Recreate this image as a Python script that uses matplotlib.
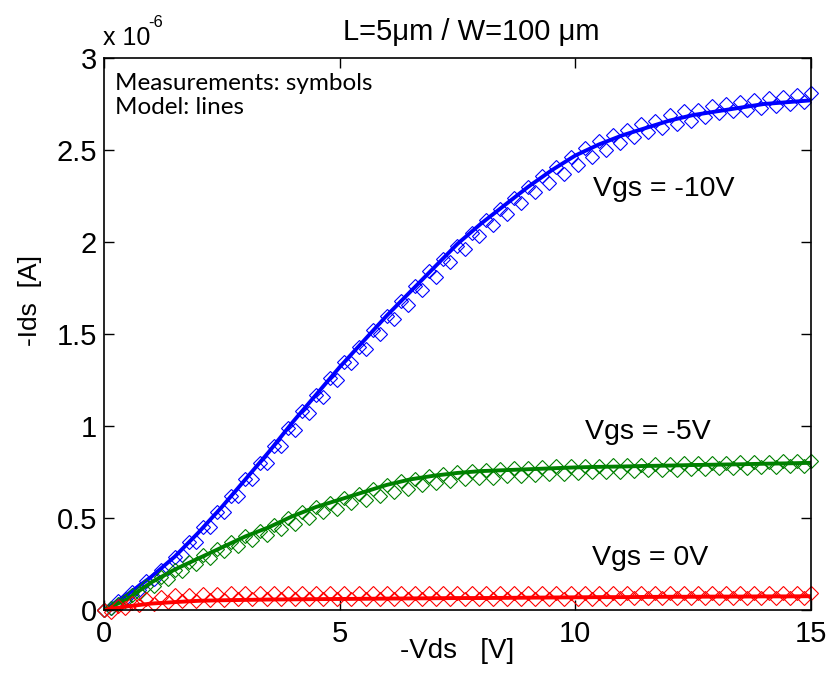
import numpy as np
import matplotlib.pyplot as plt

# model curves (units of 1e-6 A)
vm = [0, 0.5, 1, 1.5, 2, 2.5, 3, 3.5, 4, 4.5, 5, 5.5, 6, 6.5, 7, 7.5, 8, 8.5, 9, 9.5,
      10, 10.5, 11, 11.5, 12, 12.5, 13, 13.5, 14, 14.5, 15]
model_10 = [0, 0.085, 0.18, 0.29, 0.42, 0.56, 0.71, 0.86, 1.02, 1.17, 1.32, 1.46, 1.60, 1.73,
            1.86, 1.99, 2.10, 2.20, 2.30, 2.39, 2.47, 2.53, 2.58, 2.62, 2.66, 2.69, 2.71,
            2.73, 2.75, 2.76, 2.77]
model_5 = [0, 0.06, 0.15, 0.22, 0.28, 0.34, 0.40, 0.45, 0.51, 0.56, 0.60, 0.64, 0.68, 0.71,
           0.73, 0.745, 0.755, 0.76, 0.765, 0.77, 0.775, 0.778, 0.78, 0.783, 0.785, 0.788,
           0.79, 0.792, 0.795, 0.797, 0.80]
model_0 = [0, 0.02, 0.035, 0.043, 0.05, 0.053, 0.055, 0.057, 0.058, 0.059, 0.06, 0.061, 0.062,
           0.063, 0.064, 0.065, 0.065, 0.066, 0.067, 0.068, 0.069, 0.07, 0.07, 0.071, 0.072,
           0.072, 0.073, 0.073, 0.074, 0.074, 0.075]

# measurements, two sweeps
va = np.round(np.arange(0, 15.01, 0.3), 2)
vb = np.round(np.arange(0.15, 15.0, 0.3), 2)

meas_10a = [0.00, 0.05, 0.10, 0.16, 0.22, 0.29, 0.37, 0.45, 0.53, 0.62, 0.71, 0.80, 0.89, 0.99,
            1.08, 1.17, 1.26, 1.35, 1.43, 1.52, 1.60, 1.68, 1.76, 1.84, 1.91, 1.98, 2.05, 2.12,
            2.18, 2.24, 2.30, 2.36, 2.41, 2.46, 2.51, 2.55, 2.58, 2.61, 2.64, 2.66, 2.69, 2.71,
            2.72, 2.74, 2.75, 2.76, 2.77, 2.78, 2.79, 2.80, 2.81]
meas_10b = [0.01, 0.06, 0.11, 0.17, 0.23, 0.30, 0.37, 0.45, 0.53, 0.62, 0.71, 0.80, 0.89, 0.98,
            1.07, 1.16, 1.25, 1.34, 1.42, 1.50, 1.58, 1.66, 1.74, 1.81, 1.89, 1.96, 2.03, 2.09,
            2.15, 2.21, 2.27, 2.32, 2.37, 2.42, 2.46, 2.50, 2.54, 2.57, 2.60, 2.62, 2.64, 2.66,
            2.68, 2.70, 2.71, 2.72, 2.73, 2.74, 2.75, 2.76]
meas_5a = [0.00, 0.03, 0.08, 0.13, 0.18, 0.22, 0.26, 0.30, 0.33, 0.37, 0.40, 0.43, 0.46, 0.50,
           0.53, 0.56, 0.58, 0.61, 0.63, 0.66, 0.68, 0.70, 0.71, 0.73, 0.74, 0.75, 0.755, 0.76,
           0.765, 0.77, 0.77, 0.775, 0.78, 0.78, 0.785, 0.785, 0.79, 0.79, 0.79, 0.795, 0.795,
           0.80, 0.80, 0.80, 0.80, 0.805, 0.805, 0.805, 0.81, 0.81, 0.81]
meas_5b = [0.01, 0.05, 0.09, 0.13, 0.17, 0.21, 0.25, 0.28, 0.32, 0.35, 0.38, 0.41, 0.44, 0.47,
           0.50, 0.53, 0.55, 0.58, 0.60, 0.62, 0.64, 0.66, 0.68, 0.69, 0.70, 0.71, 0.72, 0.72,
           0.73, 0.73, 0.735, 0.74, 0.74, 0.745, 0.75, 0.75, 0.75, 0.755, 0.76, 0.76, 0.76,
           0.765, 0.765, 0.77, 0.77, 0.77, 0.775, 0.775, 0.78, 0.78]
meas_0a = [0.00, 0.02, 0.04, 0.06, 0.07, 0.08, 0.08, 0.085, 0.085, 0.09, 0.09, 0.09, 0.09, 0.09,
           0.09, 0.09, 0.09, 0.09, 0.09, 0.09, 0.09, 0.09, 0.09, 0.09, 0.09, 0.09, 0.09, 0.09,
           0.09, 0.09, 0.09, 0.09, 0.09, 0.09, 0.09, 0.09, 0.09, 0.09, 0.09, 0.09, 0.09, 0.09,
           0.09, 0.09, 0.09, 0.09, 0.09, 0.09, 0.09, 0.09, 0.09]
meas_0b = [-0.01, 0.01, 0.025, 0.035, 0.045, 0.05, 0.05, 0.055, 0.055, 0.06, 0.06, 0.06, 0.06,
           0.06, 0.06, 0.06, 0.06, 0.06, 0.06, 0.06, 0.06, 0.06, 0.06, 0.06, 0.06, 0.06, 0.06,
           0.06, 0.06, 0.06, 0.06, 0.062, 0.062, 0.062, 0.062, 0.062, 0.063, 0.063, 0.063,
           0.063, 0.064, 0.064, 0.064, 0.064, 0.065, 0.065, 0.065, 0.065, 0.065, 0.065]

series = [
    (model_10, meas_10a, meas_10b, (0, 0, 1)),
    (model_5, meas_5a, meas_5b, (0, 0.5, 0)),
    (model_0, meas_0a, meas_0b, (1, 0, 0)),
]

plt.rcParams['font.family'] = ['Liberation Sans', 'DejaVu Sans']

fig = plt.figure(figsize=(8.29, 6.73), dpi=100)
ax = fig.add_axes([0.1255, 0.0936, 0.8527, 0.8202])

for mod, ma, mb, col in series:
    ax.plot(va, ma, 'D', color=col, mfc='none', ms=7.3, mew=0.8, clip_on=False)
    ax.plot(vb, mb, 'D', color=col, mfc='none', ms=7.3, mew=0.8, clip_on=False)
    ax.plot(vm, mod, '-', color=col, lw=2.8)

ax.set_xlim(0, 15)
ax.set_ylim(0, 3)
ax.set_xticks([0, 5, 10, 15])
ax.set_yticks([0, 0.5, 1, 1.5, 2, 2.5, 3])
ax.set_yticklabels(['0', '0.5', '1', '1.5', '2', '2.5', '3'])
ax.tick_params(direction='in', length=7, width=1, labelsize=21, top=True, right=True)
ax.tick_params(axis='x', pad=7)
ax.tick_params(axis='y', pad=5)
for s in ax.spines.values():
    s.set_linewidth(1.2)

ax.set_xlabel('-Vds   [V]', fontsize=20, labelpad=-7)
ax.set_ylabel('-Ids  [A]', fontsize=19)
ax.yaxis.set_label_coords(-0.088, 0.56)
ax.set_title('L=5μm / W=100 μm', fontsize=21, pad=13, x=0.52)
fig.text(0.124, 0.933, 'x 10', fontsize=18, va='baseline')
fig.text(0.179, 0.96, '-6', fontsize=12, va='baseline')

ax.text(0.016, 0.972, 'Measurements: symbols\nModel: lines', transform=ax.transAxes,
        fontsize=17.5, family='Lato', va='top', linespacing=1.15)
ax.text(11.88, 2.29, 'Vgs = -10V', fontsize=20.5, ha='center', va='center')
ax.text(11.54, 0.967, 'Vgs = -5V', fontsize=20.5, ha='center', va='center')
ax.text(11.58, 0.283, 'Vgs = 0V', fontsize=20.5, ha='center', va='center')

plt.savefig('out.png', dpi=100)
